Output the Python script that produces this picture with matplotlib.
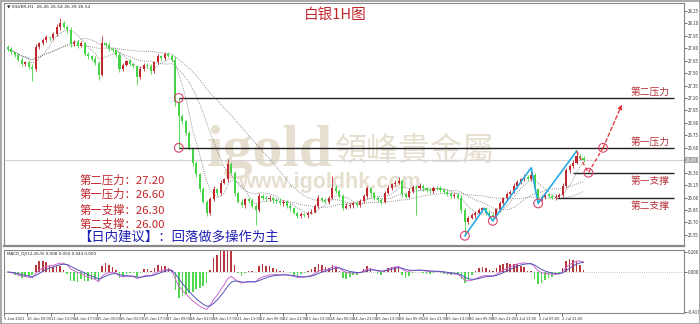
import numpy as np
import pandas as pd
import matplotlib
matplotlib.use('Agg')
import matplotlib.pyplot as plt

plt.rcParams['font.family'] = ['Noto Sans CJK SC', 'DejaVu Sans']

# 白银 H1 收盘价
closes = [27.79, 27.75, 27.72, 27.66, 27.61, 27.63, 27.57, 27.55, 27.82, 27.86,
          27.90, 27.93, 27.92, 27.97, 28.05, 28.10, 28.06, 28.02, 27.85, 27.88,
          27.83, 27.86, 27.73, 27.70, 27.67, 27.62, 27.48, 27.86, 27.84, 27.79,
          27.78, 27.72, 27.55, 27.60, 27.64, 27.61, 27.58, 27.45, 27.55, 27.60,
          27.58, 27.52, 27.63, 27.70, 27.68, 27.73, 27.71, 27.66, 27.15, 26.98,
          26.92, 26.78, 26.60, 26.42, 26.28, 26.10, 25.95, 25.82, 25.98, 26.10,
          26.05, 26.18, 26.22, 26.40, 26.30, 26.05, 25.95, 25.91, 25.98, 25.96,
          25.90, 25.85, 26.02, 26.00, 25.98, 26.00, 25.97, 25.96, 25.93, 25.95,
          25.90, 25.87, 25.82, 25.78, 25.80, 25.79, 25.82, 25.83, 25.90, 25.99,
          25.97, 25.95, 26.00, 26.12, 26.08, 26.02, 25.88, 25.90, 25.91, 25.93,
          25.91, 25.96, 26.02, 26.11, 26.05, 25.99, 25.97, 25.95, 26.06, 26.12,
          26.16, 26.18, 26.20, 26.04, 26.01, 26.08, 26.13, 26.12, 26.14, 26.11,
          26.09, 26.08, 26.12, 26.11, 26.09, 26.07, 26.04, 26.02, 26.03, 26.00,
          25.85, 25.70, 25.76, 25.79, 25.82, 25.85, 25.87, 25.82, 25.79, 25.77,
          25.86, 25.93, 25.99, 26.04, 26.07, 26.14, 26.19, 26.22, 26.25, 26.23,
          26.27, 26.10, 25.98, 26.01, 26.04, 26.02, 26.00, 26.01, 26.03, 26.14,
          26.33, 26.38, 26.42, 26.50, 26.48, 26.45]
first_open = 27.82

# 上/下影线长度 (美分)
hi_ext = [2, 3, 1, 2, 3, 2, 1, 4, 3, 2, 2, 3, 1, 2, 4, 6, 3, 2, 3, 2,
          2, 3, 1, 2, 2, 3, 2, 9, 2, 3, 2, 1, 3, 2, 2, 3, 1, 2, 3, 2,
          2, 3, 2, 3, 2, 2, 3, 2, 4, 5, 3, 2, 2, 1, 2, 2, 3, 2, 3, 4,
          2, 3, 2, 6, 3, 2, 2, 3, 2, 2, 3, 2, 3, 2, 2, 3, 2, 2, 3, 2,
          2, 3, 2, 2, 3, 2, 2, 3, 2, 4, 2, 3, 2, 14, 3, 2, 2, 3, 2, 2,
          3, 2, 2, 3, 2, 2, 3, 2, 2, 3, 2, 3, 5, 2, 2, 3, 2, 2, 3, 2,
          2, 3, 2, 2, 3, 2, 2, 3, 2, 2, 3, 2, 2, 3, 2, 3, 2, 2, 3, 2,
          2, 3, 2, 3, 2, 3, 2, 2, 3, 2, 9, 3, 2, 2, 3, 2, 2, 3, 2, 3,
          3, 2, 3, 6, 3, 2]
lo_ext = [2, 2, 3, 2, 2, 3, 2, 15, 2, 3, 2, 2, 3, 2, 2, 3, 2, 4, 3, 2,
          3, 2, 2, 3, 2, 2, 6, 2, 3, 2, 2, 3, 4, 2, 2, 3, 2, 9, 2, 3,
          2, 3, 2, 2, 3, 2, 2, 3, 5, 38, 3, 2, 3, 4, 3, 3, 2, 4, 3, 2,
          3, 2, 2, 3, 2, 3, 2, 2, 3, 2, 3, 18, 2, 3, 2, 2, 3, 2, 2, 3,
          2, 3, 2, 3, 2, 2, 3, 2, 2, 3, 2, 2, 3, 2, 3, 2, 3, 2, 2, 3,
          2, 2, 3, 2, 3, 2, 2, 3, 2, 2, 3, 2, 2, 3, 2, 2, 3, 33, 2, 3,
          2, 2, 3, 2, 2, 3, 2, 2, 3, 2, 3, 16, 2, 2, 3, 2, 2, 3, 2, 5,
          2, 3, 2, 2, 3, 2, 2, 3, 2, 2, 3, 3, 5, 2, 3, 2, 2, 3, 2, 2,
          2, 3, 2, 2, 3, 2]

x_labels = ['9 Jun 2021', '10 Jun 09:00', '11 Jun 13:00', '14 Jun 17:00', '15 Jun 09:00',
            '16 Jun 01:00', '16 Jun 17:00', '17 Jun 09:00', '18 Jun 01:00', '18 Jun 17:00',
            '21 Jun 13:00', '22 Jun 05:00', '22 Jun 21:00', '23 Jun 13:00', '24 Jun 05:00',
            '24 Jun 21:00', '25 Jun 13:00', '28 Jun 05:00', '28 Jun 21:00', '29 Jun 13:00',
            '30 Jun 05:00', '30 Jun 21:00', '1 Jul 13:00', '2 Jul 05:00', '2 Jul 21:00']

levels = [27.20, 26.60, 26.30, 26.00]
level_names = ['第二压力', '第一压力', '第一支撑', '第二支撑']
level_start = [49, 49, 162, 157.5]
last_price = 26.45

swing_idx = [131, 136.5, 139, 150, 152, 163]
swing_px = [25.54, 25.87, 25.72, 26.36, 25.93, 26.56]
plan_idx = [163, 166.4, 170.6, 176]
plan_px = [26.56, 26.30, 26.60, 27.12]
circle_idx = [49, 49, 131, 139, 152, 166.4, 170.6]
circle_px = [27.20, 26.60, 25.54, 25.72, 25.93, 26.30, 26.60]

info_lines = ['第二压力：27.20', '第一压力：26.60', '第一支撑：26.30', '第二支撑：26.00']
advice = '【日内建议】：回落做多操作为主'

# ---- 数据整理 ----
n = len(closes)
assert len(hi_ext) == n and len(lo_ext) == n
idx = np.arange(n)
c = np.array(closes)
o = np.r_[first_open, c[:-1]]
top = np.maximum(o, c)
bot = np.minimum(o, c)
hi = top + np.array(hi_ext) / 100
lo = bot - np.array(lo_ext) / 100
up = c >= o
RED = '#c0282d'
GREEN = '#45d445'
col = np.where(up, RED, GREEN)

s = pd.Series(closes)
ma = [s.rolling(w, min_periods=1).mean() for w in (6, 15, 34)]
dif = s.ewm(span=5, adjust=False).mean() - s.ewm(span=11, adjust=False).mean()
dea = dif.ewm(span=4, adjust=False).mean()
hist = 3.5 * (dif - dea)

W, H = 700, 324
fig = plt.figure(figsize=(W / 100, H / 100), dpi=100)
ax = fig.add_axes([4 / W, 78 / H, 680 / W, 243 / H])
axm = fig.add_axes([4 / W, 11 / H, 680 / W, 63 / H], sharex=ax)


def ftxt(x, y, s, **kw):
    # 按像素位置放文字
    return fig.text(x / W, 1 - y / H, s, **kw)


# 水印
wm = '#e6decf'
ax.text(333 / W, 1 - 166 / H, 'igold', transform=fig.transFigure, ha='right', va='baseline',
        family='Liberation Serif', weight='bold', fontsize=43, color=wm, zorder=0.5)
ax.text(335 / W, 1 - 151 / H, '領峰貴金屬', transform=fig.transFigure, ha='left', va='center',
        family=['Noto Sans CJK TC'], fontsize=23, color=wm, zorder=0.5)
ax.text(238 / W, 1 - 183 / H, 'www.igoldhk.com', transform=fig.transFigure, ha='left',
        va='center', family='Liberation Sans', weight='bold', fontsize=15.5, color=wm, zorder=0.5)

# 均线与K线
for m in ma:
    ax.plot(idx, m, color='#777777', lw=0.6, ls=(0, (1, 1.5)), zorder=1)
ax.axhline(last_price, color='#d2d2d2', lw=0.8, zorder=0.8)
ax.vlines(idx, lo, hi, colors=col, lw=0.6, zorder=2)
ax.bar(idx, np.maximum(top - bot, 0.006), bottom=bot, width=0.6, color=col, zorder=3)

# 压力/支撑线
for lv, st in zip(levels, level_start):
    ax.hlines(lv, st, 191, color='#222222', lw=1.0, zorder=4)
for lv, name in zip(levels, level_names):
    off = 6 if lv > 26.4 else -8
    ax.text(184, lv + off / 83, name, ha='center', va='center', fontsize=7,
            color='#b5323a', zorder=5)

ax.plot(swing_idx, swing_px, color='#2aaae6', lw=1.2, zorder=5)
ax.plot(plan_idx[:-1], plan_px[:-1], color='#e03030', lw=0.9, ls=(0, (3, 2)), zorder=5)
ax.annotate('', xy=(plan_idx[-1], plan_px[-1]), xytext=(plan_idx[-2], plan_px[-2]),
            arrowprops=dict(arrowstyle='-|>', color='#e03030', lw=0.9, ls=(0, (3, 2)),
                            mutation_scale=6, shrinkA=0, shrinkB=0), zorder=5)
ax.scatter(circle_idx, circle_px, s=40, facecolor='none', edgecolor='#d8446a', lw=0.8, zorder=6)

ax.set_xlim(-0.5, 193.8)
ax.set_ylim(27.20 - 148 / 83, 27.20 + 95 / 83)
ax.yaxis.tick_right()
yt = np.arange(25.55, 28.26, 0.15)
ax.set_yticks(yt)
ax.set_yticklabels(['' if abs(v - last_price) < 0.01 else '%.2f' % v for v in yt])
ax.tick_params(axis='y', labelsize=3.2, length=2, width=0.5, pad=1, colors='#333333')
ax.tick_params(axis='x', bottom=False, labelbottom=False)
y0, y1 = ax.get_ylim()
ax.text(1.003, (last_price - y0) / (y1 - y0), '%.2f' % last_price,
        transform=ax.transAxes, fontsize=3.2, color='white', va='center', ha='left',
        bbox=dict(boxstyle='square,pad=0.15', fc='#a8a8a8', ec='none'))
for sp in ax.spines.values():
    sp.set_color('#888888')
    sp.set_linewidth(0.8)
ax.spines['bottom'].set_linewidth(1.6)

ax.text(0.004, 0.995, '▼ SILVER,H1  26.45 26.54 26.39 26.52', transform=ax.transAxes,
        fontsize=3.2, va='top', ha='left', family='DejaVu Sans', color='#222222')

# 标题与说明
ftxt(335, 15, '白银1H图', ha='center', va='center', fontsize=10.5, color=RED)
for txt, y in zip(info_lines, [180, 194, 210, 224]):
    ftxt(80, y, txt, ha='left', va='center', fontsize=8.2, color='#c0262c')
ftxt(78, 238, advice, ha='left', va='center', fontsize=9.6, color='#1f1fb4')

# MACD
hc = np.where(hist >= 0, '#b5383c', '#4fd84f')
axm.bar(idx, hist, width=0.45, color=hc, zorder=2)
axm.plot(idx, dif, color='#cc66cc', lw=0.7, zorder=3)
axm.plot(idx, dea, color='#5555bb', lw=0.7, zorder=3)
axm.axhline(0, color='#999999', lw=0.5, ls=(0, (1, 2)), zorder=1)
lo_m = min(dif.min(), dea.min(), hist.min()) * 1.1
hi_m = -lo_m * 0.538
axm.set_ylim(lo_m, hi_m)
axm.yaxis.tick_right()
axm.set_yticks([hi_m * 0.9, 0, lo_m * 0.98])
axm.set_yticklabels(['%.3f' % (hi_m * 0.9), '0.000', '%.3f' % (lo_m * 0.98)])
axm.tick_params(axis='y', labelsize=3.2, length=2, width=0.5, pad=1, colors='#333333')
xt = np.arange(len(x_labels)) * 23.33 / 3.5 - 1.1
axm.set_xticks(xt)
axm.set_xticklabels(x_labels, ha='left')
axm.tick_params(axis='x', labelsize=3.0, length=2, width=0.5, pad=1, colors='#333333')
for sp in axm.spines.values():
    sp.set_color('#888888')
    sp.set_linewidth(0.8)
axm.text(0.004, 0.97, 'MACD_DJ(12,26,9) 0.008 0.050 0.044 0.000', transform=axm.transAxes,
         fontsize=3.0, va='top', ha='left', family='DejaVu Sans', color='#222222')

# 外框
fig.patches.append(plt.Rectangle((0.5 / W, 0.5 / H), 1 - 1 / W, 1 - 1 / H, transform=fig.transFigure,
                                 fill=False, ec='#9a9a9a', lw=1.2))

fig.savefig('out.png', dpi=100, facecolor='white')
